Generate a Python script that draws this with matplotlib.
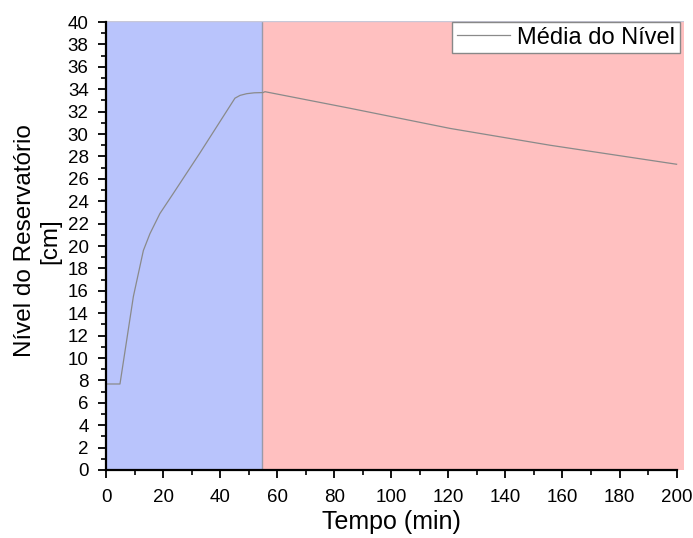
import numpy as np
import matplotlib
matplotlib.use("Agg")
import matplotlib.pyplot as plt
from matplotlib.ticker import MultipleLocator

plt.rcParams['font.family'] = ['Liberation Sans', 'DejaVu Sans']

# curve
tempo = [0, 4.9, 9.6, 13.1, 15.4, 18.9, 23.6, 32.9, 38.8, 45.2, 47.0, 49.3, 52.0, 55.1,
         55.7, 85.5, 120.6, 155.6, 200]
nivel = [7.68, 7.68, 15.5, 19.6, 21.1, 22.9, 24.7, 28.3, 30.65, 33.2, 33.45, 33.6, 33.68, 33.7,
         33.78, 32.3, 30.5, 29.0, 27.3]

fase_fim = 54.6
x_max = 202.6
y_max = 40.1

fig = plt.figure(figsize=(6.93, 5.38), dpi=100)
ax = fig.add_axes([106 / 693, 1 - 470 / 538, (684 - 106) / 693, (470 - 20.9) / 538])

ax.axvspan(0, fase_fim, color='#b9c4fc', lw=0, zorder=0)
ax.axvspan(fase_fim, x_max, color='#ffc0c0', lw=0, zorder=0)
ax.axvline(fase_fim, color='#9a9aa8', lw=1, zorder=1)
ax.axhline(y_max, color='#c8c8d8', lw=1, zorder=1)

ax.plot(tempo, nivel, color='#8a8a8a', lw=0.9, label='Média do Nível', zorder=2)

ax.set_xlim(0, x_max)
ax.set_ylim(0, y_max)
ax.yaxis.set_major_locator(MultipleLocator(2))
ax.yaxis.set_minor_locator(MultipleLocator(1))
ax.set_xticks(np.arange(0, 201, 20))
ax.set_xticks(np.arange(10, 200, 10), minor=True)

for s in ['top', 'right']:
    ax.spines[s].set_visible(False)
for s in ['left', 'bottom']:
    ax.spines[s].set_linewidth(1.6)
ax.spines['bottom'].set_bounds(0, 200)
ax.spines['left'].set_bounds(0, 40)

ax.tick_params(which='major', direction='out', length=5.5, width=1.3, labelsize=13.5)
ax.tick_params(which='minor', direction='out', length=3.5, width=1.2)
ax.tick_params(axis='x', which='major', pad=8)
ax.tick_params(axis='y', which='major', pad=7)

ax.set_xlabel('Tempo (min)', fontsize=18, va='top')
ax.xaxis.set_label_coords(100 / x_max, -0.09)
ax.set_ylabel('Nível do Reservatório\n[cm]', fontsize=17.5, linespacing=1.15)
ax.yaxis.set_label_coords(-0.078, 0.51)

leg = ax.legend(loc='upper right', bbox_to_anchor=(680 / 693, 1 - 22 / 538),
                bbox_transform=fig.transFigure, borderaxespad=0,
                fontsize=17, fancybox=False, framealpha=1, edgecolor='#888888',
                handlelength=2.25, borderpad=0.2, handletextpad=0.3)
leg.get_frame().set_linewidth(1.0)

fig.savefig('out.png', dpi=100)
